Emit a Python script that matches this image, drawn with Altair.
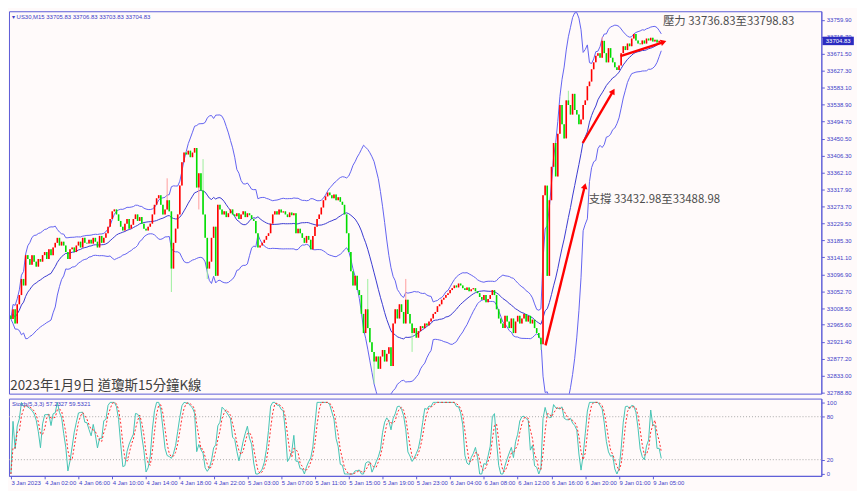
import math
import altair as alt
import pandas as pd

# ---------------- data ----------------
closes = [
    32981, 33006, 32969, 33019,
    33043, 33085, 33068,
    33147,
    33137, 33122, 33147, 33130, 33117, 33137,
    33130, 33147, 33155, 33137, 33162, 33147,
    33167, 33179, 33192, 33172, 33182,
    33172, 33155, 33137, 33162, 33167, 33155,
    33172, 33182, 33167, 33192, 33179, 33177,
    33187, 33177, 33192, 33182, 33167, 33197,
    33179, 33192, 33204, 33221, 33241, 33261, 33266,
    33253, 33236, 33221, 33211, 33229, 33241, 33216,
    33226, 33241, 33253, 33236, 33246, 33229,
    33216, 33211, 33221, 33229, 33253,
    33278, 33295, 33303,
    33278, 33253, 33266, 33290, 33261,
    33112,
    33179, 33216, 33253,
    33328, 33389, 33414,
    33409, 33419, 33402, 33414, 33426,
    33323,
    33360, 33315,
    33253,
    33192, 33112,
    33130, 33192, 33221,
    33093, 33278,
    33266, 33253, 33261, 33246, 33256, 33266, 33253,
    33248, 33256, 33241, 33253, 33261, 33246, 33256, 33251, 33241, 33236,
    33204, 33167, 33172,
    33179, 33187, 33197, 33204, 33229, 33253,
    33261, 33253, 33266, 33258,
    33261, 33253, 33246, 33258, 33251, 33256,
    33204,
    33216, 33204, 33192, 33179, 33197, 33187, 33162,
    33197, 33221, 33241,
    33253, 33271, 33290, 33300, 33310, 33303,
    33295, 33305, 33290, 33298, 33286,
    33278, 33253, 33204, 33155, 33105,
    33068, 33093, 33056, 33043, 32994,
    32944, 33006, 32957,
    32920, 32895, 32870, 32883, 32851,
    32883, 32900, 32870, 32890, 32907, 32858,
    32969,
    33006, 32982, 33019, 32999, 32969,
    33031,
    32994, 32969, 32944, 32957, 32932,
    32949, 32962, 32957, 32969, 32964,
    32974, 32982, 32994, 32999, 33014, 33019, 33031,
    33036, 33043, 33048, 33056, 33061, 33068, 33063, 33073, 33068,
    33061, 33056, 33063, 33053, 33058, 33061, 33053,
    33048, 33038, 33031, 33043, 33024, 33033, 33043, 33056, 33043,
    33006, 32982, 32969, 32957, 32989, 32974,
    32957, 32982, 32944, 32974, 32989, 32969, 32982, 32994, 32974,
    32989, 32969, 32979, 32957, 32944, 32932,
    32915, 33303, 33328, 33093, 33290, 33377, 33439, 33352, 33463, 33538,
    33488, 33451, 33550, 33538, 33513,
    33567, 33525, 33513, 33488, 33500, 33538, 33550,
    33587, 33599, 33631, 33649, 33666, 33673, 33661,
    33705, 33673, 33649, 33686, 33661,
    33649, 33636, 33629, 33641,
    33673, 33691, 33681, 33698,
    33691, 33711, 33723, 33706, 33698,
    33696, 33706, 33698, 33711,
    33706, 33713, 33703, 33708, 33701, 33705, 33704.83,
]
first_open = 32990.0
last_ohlc = [33705.83, 33706.83, 33703.83, 33704.83]

wick_bars = [74, 76, 89, 91, 93, 169, 172, 187, 190, 251, 264, 280]
wick_prices = [33347, 33051, 33266, 33397, 33085, 33085, 32813, 33085, 32895, 32900, 33575, 33715]

y_ticks = [33759.90, 33715.70, 33671.50, 33627.30, 33583.10, 33538.90, 33494.70,
           33450.50, 33406.30, 33362.10, 33317.90, 33273.70, 33229.50, 33185.30,
           33141.10, 33096.90, 33052.70, 33008.50, 32965.60, 32921.40, 32877.20,
           32833.00, 32788.80]
stoch_ticks = [0, 20, 80, 100]
stoch_levels = [20, 80]

x_tick_bars = [0, 16, 32, 48, 64, 80, 96, 112, 128, 144, 160, 176, 192, 208,
               224, 240, 256, 272, 288, 304]
x_tick_labels = ["3 Jan 2023", "4 Jan 02:00", "4 Jan 06:00", "4 Jan 10:00",
                 "4 Jan 14:00", "4 Jan 18:00", "4 Jan 22:00", "5 Jan 03:00",
                 "5 Jan 07:00", "5 Jan 11:00", "5 Jan 15:00", "5 Jan 19:00",
                 "5 Jan 23:00", "6 Jan 04:00", "6 Jan 08:00", "6 Jan 12:00",
                 "6 Jan 16:00", "6 Jan 20:00", "9 Jan 01:00", "9 Jan 05:00"]

arrow_x0 = [253.2, 270.8, 288.7]
arrow_y0 = [32912, 33439, 33665]
arrow_x1 = [271.8, 285.2, 309.1]
arrow_y1 = [33327, 33574, 33702]

ann_text = ["壓力 33736.83至33798.83", "支撐 33432.98至33488.98"]
ann_x = [308.8, 273.6]
ann_y = [33755, 33290]

title_text = ["2023年1月9日 道瓊斯15分鐘K線"]
title_x = [-0.3]
title_y = [32805]

header_symbol = "▾ US30,M15"
stoch_title = "Stoch(5,3,3) 57.2327 59.5321"

# ---------------- layout ----------------
W = 820
H1 = 386
H2 = 78
x_dom = [-0.9, 383.8]
y_dom = [32786.3, 33782.1]
s_dom = [-2.6, 105.3]

BLUE = "#5d5dd8"
LBL = "#3d3dc8"
FONT = "Liberation Sans"
CJK = "Noto Sans CJK TC"

# ---------------- derived table ----------------
n = len(closes)
opens = [first_open] + closes[:-1]
opens[-1] = last_ohlc[0]
highs = [max(o, c) for o, c in zip(opens, closes)]
lows = [min(o, c) for o, c in zip(opens, closes)]
highs[-1] = last_ohlc[1]
lows[-1] = last_ohlc[2]
for b, p in zip(wick_bars, wick_prices):
    if p > highs[b]:
        highs[b] = p
    elif p < lows[b]:
        lows[b] = p

df = pd.DataFrame({"i": list(range(n)), "open": opens, "close": closes,
                   "high": highs, "low": lows})
s = df["close"]
mid = s.rolling(20, min_periods=1).mean()
sd = s.rolling(20, min_periods=1).std(ddof=0)
df["bb_mid"] = mid
df["bb_up"] = mid + 2 * sd
df["bb_lo"] = mid - 2 * sd
ll = df["low"].rolling(5, min_periods=1).min()
hh = df["high"].rolling(5, min_periods=1).max()
num = (df["close"] - ll).rolling(3, min_periods=1).sum()
den = (hh - ll).rolling(3, min_periods=1).sum()
df["k"] = (100 * num / den.where(den > 0)).fillna(50)
df["d"] = df["k"].rolling(3, min_periods=1).mean()

sx = W / (x_dom[1] - x_dom[0])
sy = H1 / (y_dom[1] - y_dom[0])
angles = [math.degrees(math.atan2((x1 - x0) * sx, (y1 - y0) * sy))
          for x0, y0, x1, y1 in zip(arrow_x0, arrow_y0, arrow_x1, arrow_y1)]
arrows = pd.DataFrame({"x0": arrow_x0, "y0": arrow_y0, "x1": arrow_x1,
                       "y1": arrow_y1, "ang": angles})

xs = alt.Scale(domain=x_dom, nice=False, zero=False)
ys = alt.Scale(domain=y_dom, nice=False, zero=False)
ss = alt.Scale(domain=s_dom, nice=False, zero=False)

yaxis = alt.Axis(orient="right", values=y_ticks, format=".2f", title=None,
                 tickSize=3, labelPadding=2, grid=False, domainColor=BLUE,
                 tickColor=BLUE, labelColor=LBL, labelFontSize=6, labelFont=FONT,
                 labelOverlap=False, labelFlush=False)
X = alt.X("i:Q", scale=xs, axis=None)

base = alt.Chart(df)
up_cond = "datum.close >= datum.open"
wicks = base.mark_rule(strokeWidth=1).encode(
    x=X, y=alt.Y("low:Q", scale=ys, axis=yaxis), y2="high:Q",
    color=alt.condition(up_cond, alt.value("#ff9c9c"), alt.value("#9cef9c")))
bodies = base.mark_rule(strokeWidth=1.6).encode(
    x=X, y=alt.Y("open:Q", scale=ys, axis=yaxis), y2="close:Q",
    color=alt.condition(up_cond, alt.value("#ff0000"), alt.value("#00dc00")))


def band(field, color, width):
    return base.mark_line(color=color, strokeWidth=width, clip=True).encode(
        x=X, y=alt.Y(f"{field}:Q", scale=ys, axis=yaxis))


bb_up = band("bb_up", "#6262f0", 1)
bb_lo = band("bb_lo", "#6262f0", 1)
bb_mid = band("bb_mid", "#3a3ad0", 1)

arrow_lines = alt.Chart(arrows).mark_rule(color="#ff0000", strokeWidth=2.4).encode(
    x=alt.X("x0:Q", scale=xs, axis=None), x2="x1:Q",
    y=alt.Y("y0:Q", scale=ys, axis=yaxis), y2="y1:Q")
arrow_heads = alt.Chart(arrows).mark_point(
    shape="triangle-up", filled=True, size=45, color="#ff0000", opacity=1).encode(
    x=alt.X("x1:Q", scale=xs, axis=None),
    y=alt.Y("y1:Q", scale=ys, axis=yaxis),
    angle=alt.Angle("ang:Q", scale=None))

ann = alt.Chart(pd.DataFrame({"t": ann_text, "x": ann_x, "y": ann_y})).mark_text(
    align="left", baseline="middle", font=CJK, fontSize=11.5, color="#4e4e4e").encode(
    x=alt.X("x:Q", scale=xs, axis=None), y=alt.Y("y:Q", scale=ys, axis=yaxis), text="t:N")
ttl = alt.Chart(pd.DataFrame({"t": title_text, "x": title_x, "y": title_y})).mark_text(
    align="left", baseline="middle", font=CJK, fontSize=13.5, color="#404040").encode(
    x=alt.X("x:Q", scale=xs, axis=None), y=alt.Y("y:Q", scale=ys, axis=yaxis), text="t:N")

header = "{}  {:.2f} {:.2f} {:.2f} {:.2f}".format(header_symbol, *last_ohlc)
hdr = alt.Chart(pd.DataFrame({"t": [header]})).mark_text(
    align="left", baseline="middle", font=FONT, fontSize=6, color=LBL).encode(
    x=alt.value(3), y=alt.value(6), text="t:N")

last_df = pd.DataFrame({"p": [last_ohlc[3]], "t": ["{:.2f}".format(last_ohlc[3])]})
price_box = alt.Chart(last_df).mark_point(
    shape="M-1,-0.27H1V0.27H-1Z", size=1000, filled=True, color="#2b2bc0", opacity=1).encode(
    x=alt.value(W + 17), y=alt.Y("p:Q", scale=ys, axis=yaxis))
price_txt = alt.Chart(last_df).mark_text(
    align="center", baseline="middle", font=FONT, fontSize=6, color="white").encode(
    x=alt.value(W + 17), y=alt.Y("p:Q", scale=ys, axis=yaxis), text="t:N")

main = alt.layer(bb_up, bb_lo, bb_mid, wicks, bodies, arrow_lines, arrow_heads,
                 ann, ttl, hdr, price_box, price_txt).properties(width=W, height=H1)

# ---------------- stochastic panel ----------------
label_expr = "[" + ",".join("'%s'" % t for t in x_tick_labels) + "][indexof(" + \
    str(x_tick_bars) + ", datum.value)]"
xaxis = alt.Axis(values=x_tick_bars, labelExpr=label_expr, title=None, tickSize=3,
                 labelAlign="left", labelPadding=1, labelFontSize=6, labelFont=FONT,
                 labelColor=LBL, domainColor=BLUE, tickColor=BLUE, grid=False,
                 labelOverlap=False, labelFlush=False, labelBound=False)
saxis = alt.Axis(orient="right", values=stoch_ticks, title=None, tickSize=3,
                 labelPadding=2, grid=False, domainColor=BLUE, tickColor=BLUE,
                 labelColor=LBL, labelFontSize=6, labelFont=FONT, labelOverlap=False,
                 labelFlush=False)
SX = alt.X("i:Q", scale=xs, axis=xaxis)

levels = alt.Chart(pd.DataFrame({"lv": stoch_levels})).mark_rule(
    color="#a8a8a8", strokeWidth=1, strokeDash=[1, 2]).encode(
    y=alt.Y("lv:Q", scale=ss, axis=saxis))
k_line = base.mark_line(color="#45c3b3", strokeWidth=1, clip=True).encode(
    x=SX, y=alt.Y("k:Q", scale=ss, axis=saxis))
d_line = base.mark_line(color="#ff2a2a", strokeWidth=1, strokeDash=[2, 2], clip=True).encode(
    x=SX, y=alt.Y("d:Q", scale=ss, axis=saxis))
st_title = alt.Chart(pd.DataFrame({"t": [stoch_title]})).mark_text(
    align="left", baseline="middle", font=FONT, fontSize=6, color=LBL).encode(
    x=alt.value(3), y=alt.value(5), text="t:N")

stoch = alt.layer(levels, k_line, d_line, st_title).properties(width=W, height=H2)

chart = alt.vconcat(main, stoch, spacing=1).properties(
    background="#fffafa",
    padding={"left": 0, "top": 0, "right": 2, "bottom": 2},
).configure_view(stroke=BLUE, strokeWidth=1)

chart.save("out.html", embed_options={"renderer": "svg", "actions": False})
